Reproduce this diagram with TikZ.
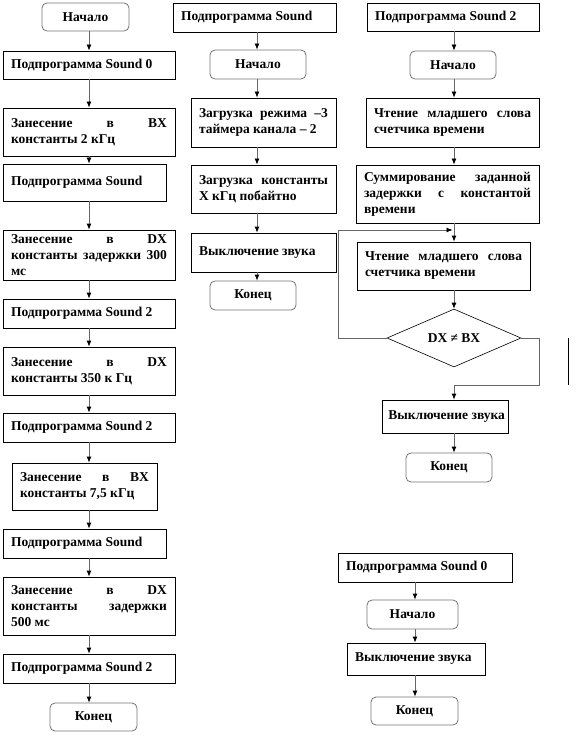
\documentclass[tikz,border=0pt]{standalone}
\usepackage{fontspec}
\setmainfont{Liberation Serif}
\usepackage{tikz}
\usetikzlibrary{shapes,arrows.meta}
\tikzset{
	block/.style 2 args = {draw, line width=0.8pt, rectangle, inner xsep=8pt, inner ysep=0pt,
		text width=#1pt, minimum height=#2pt, align=justify},
	term/.style 2 args  = {draw=black!55, line width=0.8pt, rounded corners=5pt,
		minimum width=#1pt, minimum height=#2pt, inner sep=0pt, align=center},
	decision/.style     = {draw, diamond, line width=0.6pt, aspect=2.3, inner sep=0pt,
		minimum width=134pt, minimum height=58pt},
	axis/.style         = {coordinate}
}
\newcommand{\txt}{\fontsize{13.5}{16}\selectfont\bfseries}

\begin{document}
\begin{tikzpicture}[x=1pt, y=-1pt, font=\txt, line width=0.8pt,
	>={Latex[length=6pt,width=5pt,black]}]
	\useasboundingbox (0,0) rectangle (588,735);
	\coordinate (col1) at (89,0);
	\coordinate (col2) at (257,0);
	\coordinate (col3) at (454,0);
	\coordinate (col4) at (415,0);

	% main program
	\draw
	node at (85.5,17) [term={87}{28}] (s1) {Начало}
	node at (89,65) [block={156}{28}] (a1) {Подпрограмма Sound 0}
	node at (89,132) [block={156}{48}] (a2) {Занесение в BX\linebreak константы 2 кГц}
	node at (84.5,182.5) [block={147}{37}] (a3) {Подпрограмма Sound}
	node at (89,255) [block={156}{50}] (a4) {Занесение в DX\linebreak константы задержки 300\linebreak мс}
	node at (89,313.5) [block={156}{29}] (a5) {Подпрограмма Sound 2}
	node at (89,371) [block={156}{48}] (a6) {Занесение в DX\linebreak константы 350 к Гц}
	node at (89,427.5) [block={156}{29}] (a7) {Подпрограмма Sound 2}
	node at (84.5,486.5) [block={129}{47}] (a8) {Занесение в BX\linebreak константы 7,5 кГц}
	node at (84.5,543.5) [block={147}{29}] (a9) {Подпрограмма Sound}
	node at (89,606) [block={156}{58}] (a10) {Занесение в DX\linebreak константы задержки\linebreak 500 мс}
	node at (89,668.5) [block={156}{29}] (a11) {Подпрограмма Sound 2}
	node at (93.5,717) [term={87}{28}] (e1) {Конец};

	% Sound
	\draw
	node at (254.5,17.5) [block={147}{29}] (b0) {Подпрограмма Sound}
	node at (258,64.5) [term={96}{29}] (b1) {Начало}
	node at (263.5,122.5) [block={129}{49}] (b2) {Загрузка режима –3\linebreak таймера канала – 2}
	node at (263.5,189) [block={129}{48}] (b3) {Загрузка константы\linebreak X кГц побайтно}
	node at (263.5,252.5) [block={129}{39}] (b4) {Выключение звука}
	node at (253,295.5) [term={86}{29}] (b5) {Конец};

	% Sound 2
	\draw
	node at (453,17) [block={156}{28}] (c0) {Подпрограмма Sound 2}
	node at (453,65) [term={86}{28}] (c1) {Начало}
	node at (452.5,122.5) [block={157}{49}] (c2) {Чтение младшего слова\linebreak счетчика времени}
	node at (447.5,194) [block={167}{58}] (c3) {Суммирование заданной\linebreak задержки с константой\linebreak времени}
	node at (443.5,266) [block={157}{48}] (c4) {Чтение младшего слова\linebreak счетчика времени}
	node at (454,338) [decision] (c5) {DX ≠ BX}
	node at (445,416.5) [block={120}{33}, inner xsep=3pt] (c6) {\mbox{ Выключение звука}}
	node at (449,467.5) [term={86}{29}] (c7) {Конец};

	% Sound 0
	\draw
	node at (425,567.5) [block={158}{29}] (d0) {Подпрограмма Sound 0}
	node at (412.5,614.5) [term={91}{29}] (d1) {Начало}
	node at (416,659) [block={122}{32}] (d2) {Выключение звука}
	node at (414.5,711) [term={87}{28}] (d3) {Конец};

	\begin{scope}[draw=black!60]
	\foreach \u/\v in {s1/a1,a1/a2,a2/a3,a3/a4,a4/a5,a5/a6,a6/a7,a7/a8,a8/a9,a9/a10,a10/a11,a11/e1}
		\draw[->] (\u.south -| col1) -- (\v.north -| col1);
	\foreach \u/\v in {b0/b1,b1/b2,b2/b3,b3/b4,b4/b5}
		\draw[->] (\u.south -| col2) -- (\v.north -| col2);
	\foreach \u/\v in {c0/c1,c1/c2,c2/c3,c3/c4,c4/c5,c6/c7}
		\draw[->] (\u.south -| col3) -- (\v.north -| col3);
	\foreach \u/\v in {d0/d1,d1/d2,d2/d3}
		\draw[->] (\u.south -| col4) -- (\v.north -| col4);

	\coordinate (lp) at (338,230);
	\coordinate (rb) at (539,385);
	\draw[->, shorten >=1.5pt] (c5.west) -| (lp) -- (lp -| col3);
	\draw[->] (c5.east) -| (rb) -- (rb -| col3) -- (c6.north -| col3);
	\end{scope}

	\coordinate (m1) at (568,338);
	\coordinate (m2) at (568,385);
	\draw[line width=0.7pt] (m1) -- (m2);
\end{tikzpicture}
\end{document}
